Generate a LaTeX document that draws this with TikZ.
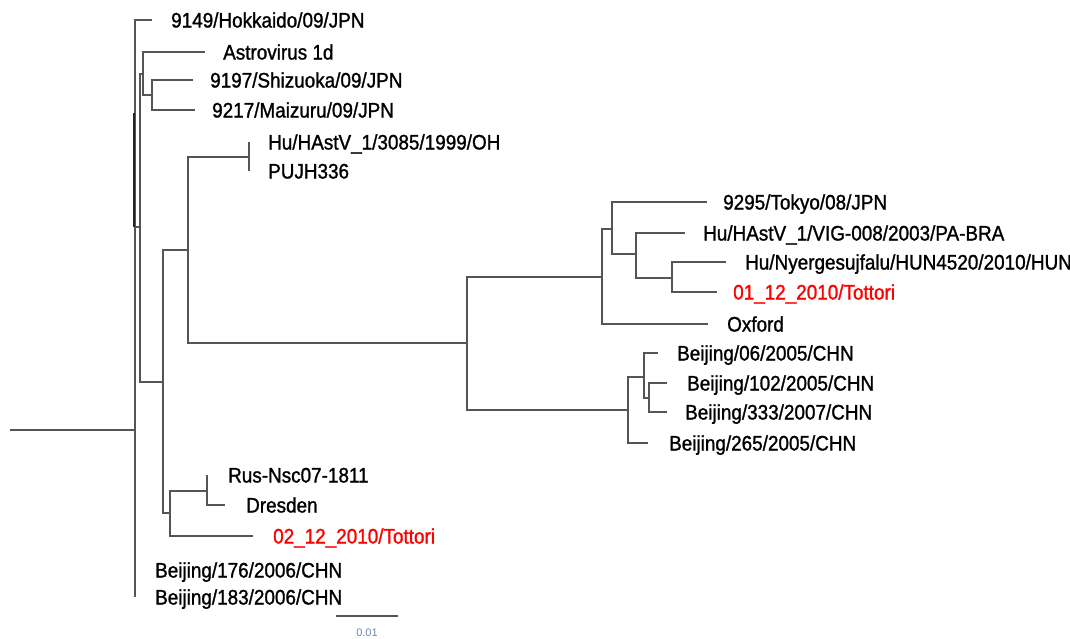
\documentclass[tikz,border=0pt]{standalone}
\usepackage{fontspec}
\newfontfamily\taxonfont[FakeStretch=0.9, FakeBold=1.2]{Liberation Sans}
\newfontfamily\scalefont{Liberation Sans}
\definecolor{branchgray}{RGB}{85,85,85}
\definecolor{scaleblue}{RGB}{110,135,170}
\usetikzlibrary{positioning}

\begin{document}
\begin{tikzpicture}[x=1pt, y=-1pt,
  branch/.style={draw=branchgray, line width=1.8pt},
  taxon/.style={anchor=west, inner sep=0pt, text height=15pt, text depth=0pt,
    font={\fontsize{21}{23}\taxonfont}},
  tottori/.style={taxon, text=red}]
  \useasboundingbox (0,0) rectangle (1070,638);

  % Internal nodes
  \coordinate (r0) at (10,430);
  \coordinate (root) at (135,430);
  \coordinate (nA) at (140,227);
  \coordinate (nB) at (143,74);
  \coordinate (nB2) at (152,95);
  \coordinate (nC) at (163,382);
  \coordinate (nD) at (188,250);
  \coordinate (nE) at (249,157);
  \coordinate (nF) at (467,343);
  \coordinate (nG) at (602,277);
  \coordinate (nH) at (612,229);
  \coordinate (nI) at (636,254);
  \coordinate (nJ) at (672,278);
  \coordinate (nK) at (628,410);
  \coordinate (nL) at (644,377);
  \coordinate (nM) at (649,398);
  \coordinate (nP) at (170,513);
  \coordinate (nQ) at (207,491);

  % Tips
  \coordinate (t9149) at (152,20);
  \coordinate (tAstro) at (205,52);
  \coordinate (t9197) at (193,80);
  \coordinate (t9217) at (195,110);
  \coordinate (t3085) at (249,142);
  \coordinate (tPUJ) at (249,171);
  \coordinate (tTokyo) at (707,202);
  \coordinate (tVIG) at (685,233);
  \coordinate (tNyer) at (726,262);
  \coordinate (tTot1) at (717,292);
  \coordinate (tOxford) at (708,324);
  \coordinate (t06) at (658,353);
  \coordinate (t102) at (667,383);
  \coordinate (t333) at (667,412);
  \coordinate (t265) at (648,443);
  \coordinate (tRus) at (207,475);
  \coordinate (tDres) at (225,505);
  \coordinate (tTot2) at (253,536);
  \coordinate (t176) at (135,570);
  \coordinate (t183) at (135,597);
  \coordinate (dark) at (134,113);

  % Branches
  \draw[branch] (r0) -- (root);
  \draw[branch] (root) |- (t9149);
  \draw[branch] (root) |- (nA);
  \draw[branch] (root) -- (t183);
  \draw[branch, draw=black!85, line width=2.4pt] (dark) -- (dark |- nA);
  \draw[branch] (nA) |- (nB);
  \draw[branch] (nA) |- (nC);
  \draw[branch] (nB) |- (tAstro);
  \draw[branch] (nB) |- (nB2);
  \draw[branch] (nB2) |- (t9197);
  \draw[branch] (nB2) |- (t9217);
  \draw[branch] (nC) |- (nD);
  \draw[branch] (nC) |- (nP);
  \draw[branch] (nD) |- (nE);
  \draw[branch] (nD) |- (nF);
  \draw[branch] (t3085) -- (tPUJ);
  \draw[branch] (nF) |- (nG);
  \draw[branch] (nF) |- (nK);
  \draw[branch] (nG) |- (nH);
  \draw[branch] (nG) |- (tOxford);
  \draw[branch] (nH) |- (tTokyo);
  \draw[branch] (nH) |- (nI);
  \draw[branch] (nI) |- (tVIG);
  \draw[branch] (nI) |- (nJ);
  \draw[branch] (nJ) |- (tNyer);
  \draw[branch] (nJ) |- (tTot1);
  \draw[branch] (nK) |- (nL);
  \draw[branch] (nK) |- (t265);
  \draw[branch] (nL) |- (t06);
  \draw[branch] (nL) |- (nM);
  \draw[branch] (nM) |- (t102);
  \draw[branch] (nM) |- (t333);
  \draw[branch] (nP) |- (nQ);
  \draw[branch] (nP) |- (tTot2);
  \draw[branch] (tRus) |- (tDres);

  % Taxa
  \node[taxon, right=19pt of t9149] (l9149) {9149/Hokkaido/09/JPN};
  \node[taxon, right=18pt of tAstro] (lAstro) {Astrovirus 1d};
  \node[taxon, right=17pt of t9197] (l9197) {9197/Shizuoka/09/JPN};
  \node[taxon, right=17pt of t9217] (l9217) {9217/Maizuru/09/JPN};
  \node[taxon, right=19pt of t3085] (l3085) {Hu/HAstV\_1/3085/1999/OH};
  \node[taxon, right=19pt of tPUJ] (lPUJ) {PUJH336};
  \node[taxon, right=16pt of tTokyo] (lTokyo) {9295/Tokyo/08/JPN};
  \node[taxon, right=18pt of tVIG] (lVIG) {Hu/HAstV\_1/VIG-008/2003/PA-BRA};
  \node[taxon, right=19pt of tNyer] (lNyer) {Hu/Nyergesujfalu/HUN4520/2010/HUN};
  \node[tottori, right=16pt of tTot1] (lTot1) {01\_12\_2010/Tottori};
  \node[taxon, right=19pt of tOxford] (lOxford) {Oxford};
  \node[taxon, right=19pt of t06] (l06) {Beijing/06/2005/CHN};
  \node[taxon, right=20pt of t102] (l102) {Beijing/102/2005/CHN};
  \node[taxon, right=18pt of t333] (l333) {Beijing/333/2007/CHN};
  \node[taxon, right=21pt of t265] (l265) {Beijing/265/2005/CHN};
  \node[taxon, right=21pt of tRus] (lRus) {Rus-Nsc07-1811};
  \node[taxon, right=21pt of tDres] (lDres) {Dresden};
  \node[tottori, right=20pt of tTot2] (lTot2) {02\_12\_2010/Tottori};
  \node[taxon, right=20pt of t176] (l176) {Beijing/176/2006/CHN};
  \node[taxon, right=20pt of t183] (l183) {Beijing/183/2006/CHN};

  % Scale bar
  \coordinate (s0) at (336,616);
  \coordinate (s1) at (398,616);
  \draw[branch, line width=1.6pt] (s0) -- (s1);
  \node[font={\fontsize{11}{12}\scalefont}, text=scaleblue, inner sep=0pt] (sLabel) at (367,633) {0.01};
\end{tikzpicture}
\end{document}
